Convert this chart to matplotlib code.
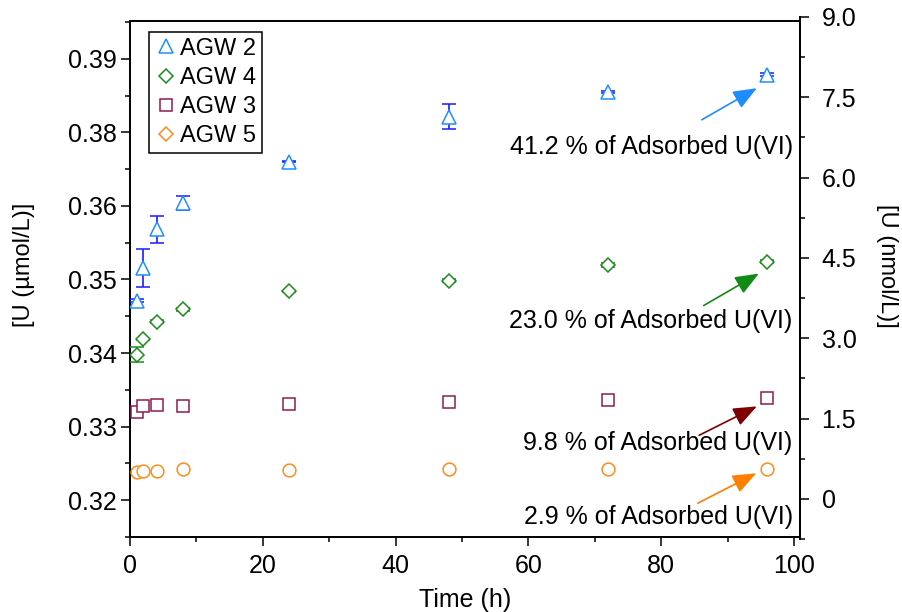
import numpy as np
import matplotlib
matplotlib.use("Agg")
import matplotlib.pyplot as plt
from matplotlib.lines import Line2D

plt.rcParams['font.family'] = ['Liberation Sans', 'DejaVu Sans']

# time points (h)
t = [1, 2, 4, 8, 24, 48, 72, 96]

# [U] (in axis position units, 0.32 at the bottom tick)
agw2 = [0.3471, 0.3516, 0.3568, 0.3604, 0.3660, 0.3721, 0.3755, 0.3778]
agw2_err = [0.0002, 0.0026, 0.0018, 0.0010, 0.0001, 0.0017, 0.0001, 0.0002]
agw4 = [0.3398, 0.34185, 0.34425, 0.34592, 0.3484, 0.34985, 0.3520, 0.35239]
agw4_err = [0.0010, 0.0001, 0.0002, 0.0002, 0.0001, 0.0002, 0.0003, 0.0002]
agw3 = [0.3320, 0.3328, 0.33293, 0.33285, 0.33307, 0.3333, 0.33361, 0.33384]
agw5 = [0.32389, 0.32398, 0.32393, 0.3243, 0.32411, 0.3242, 0.3242, 0.3243]

left_ticks = [0.32, 0.33, 0.34, 0.35, 0.36, 0.37, 0.38]
left_labels = ['0.32', '0.33', '0.34', '0.35', '0.36', '0.38', '0.39']
right_ticks = [0, 1.5, 3.0, 4.5, 6.0, 7.5, 9.0]
right_labels = ['0', '1.5', '3.0', '4.5', '6.0', '7.5', '9.0']

notes = ['41.2 % of Adsorbed U(VI)', '23.0 % of Adsorbed U(VI)',
         '9.8 % of Adsorbed U(VI)', '2.9 % of Adsorbed U(VI)']
note_y = [0.3680, 0.34429, 0.32773, 0.31769]
arrow_tail = [(86.1, 0.3717), (86.4, 0.34646), (85.7, 0.32882), (85.5, 0.31959)]
arrow_tip = [(94.4, 0.3760), (94.7, 0.3508), (94.4, 0.33275), (94.3, 0.32366)]
arrow_col = ['#1E8CFF', '#138A13', '#7F0000', '#FF8000']

c2, c2e = '#1E8FFF', '#1A1AFF'
c4 = '#1C8C1C'
c3 = '#8E1C50'
c5 = '#FF8C1A'

fig = plt.figure(figsize=(9.02, 6.12), dpi=100)
ax = fig.add_axes([130/902, 75/612, 670/902, 516/612])

ax.errorbar(t, agw2, yerr=agw2_err, fmt='^', ms=9.5, mfc='white', mec=c2, mew=1.1,
            ecolor=c2e, elinewidth=1.2, capsize=4.7, capthick=1.2, zorder=3)
ax.errorbar(t, agw4, yerr=agw4_err, fmt='D', ms=7, mfc='white', mec=c4, mew=1.1,
            ecolor=c4, elinewidth=1.2, capsize=4.7, capthick=1.2, zorder=3)
ax.plot(t, agw3, 's', ms=9, mfc='white', mec=c3, mew=1.1, zorder=3)
ax.plot(t, agw5, 'o', ms=9.2, mfc='white', mec=c5, mew=1.1, zorder=3)

ax.set_xlim(0, 100.9)
ax.set_ylim(0.31511, 0.38513)
ax.set_xticks([0, 20, 40, 60, 80, 100])
ax.set_xticks([10, 30, 50, 70, 90], minor=True)
ax.set_yticks(left_ticks, left_labels)
ax.set_yticks(np.arange(0.315, 0.386, 0.01), minor=True)
ax.tick_params(axis='both', which='major', direction='out', length=6.5, width=1.1,
               labelsize=18, pad=3)
ax.tick_params(axis='x', which='major', pad=6)
ax.tick_params(axis='both', which='minor', direction='out', length=3.6, width=1.1)
for s in ax.spines.values():
    s.set_linewidth(1.4)
ax.set_xlabel('Time (h)', fontsize=18, labelpad=7)
ax.set_ylabel('[U (µmol/L)]', fontsize=17)
ax.yaxis.set_label_coords(-0.142, 0.527)

# right hand axis in nmol/L
ax2 = fig.add_axes([130/902, 73/612, 670/902, 522/612])
ax2.patch.set_visible(False)
for k in ['left', 'top', 'bottom']:
    ax2.spines[k].set_visible(False)
ax2.spines['right'].set_linewidth(1.4)
ax2.set_xticks([])
ax2.yaxis.tick_right()
ax2.set_ylim(-0.75, 9.0)
ax2.set_yticks(right_ticks, right_labels)
ax2.set_yticks(np.arange(-0.75, 9.0, 1.5), minor=True)
ax2.tick_params(axis='y', which='major', direction='out', length=6.5, width=1.1,
                labelsize=18, pad=9)
ax2.tick_params(axis='y', which='minor', direction='out', length=3.6, width=1.1)
ax2.yaxis.set_label_position('right')
ax2.set_ylabel('[U (nmol/L)]', fontsize=17, rotation=270)
ax2.yaxis.set_label_coords(1.146, 0.524)

for txt, ty, tail, tip, col in zip(notes, note_y, arrow_tail, arrow_tip, arrow_col):
    ax.text(99.8, ty, txt, fontsize=18, ha='right', va='center', zorder=4)
    ax.annotate('', xy=tip, xytext=tail,
                arrowprops=dict(arrowstyle='-|>,head_length=0.5,head_width=0.2',
                                mutation_scale=29, lw=1.2,
                                color=col, shrinkA=0, shrinkB=0))

handles = [
    Line2D([], [], ls='none', marker='^', ms=9.5, mfc='white', mec=c2, mew=1.1),
    Line2D([], [], ls='none', marker='D', ms=7, mfc='white', mec=c4, mew=1.1),
    Line2D([], [], ls='none', marker='s', ms=9, mfc='white', mec=c3, mew=1.1),
    Line2D([], [], ls='none', marker='D', ms=7, mfc='white', mec=c5, mew=1.1),
]
leg = ax.legend(handles, ['AGW 2', 'AGW 4', 'AGW 3', 'AGW 5'], loc='upper left',
                bbox_to_anchor=(0.0284, 0.979), borderaxespad=0, fontsize=17,
                fancybox=False, framealpha=1, edgecolor='black', handlelength=0.9,
                handletextpad=0.15, labelspacing=0.3, borderpad=0.25)
leg.get_frame().set_linewidth(1.1)

fig.savefig('out.png', dpi=100)
